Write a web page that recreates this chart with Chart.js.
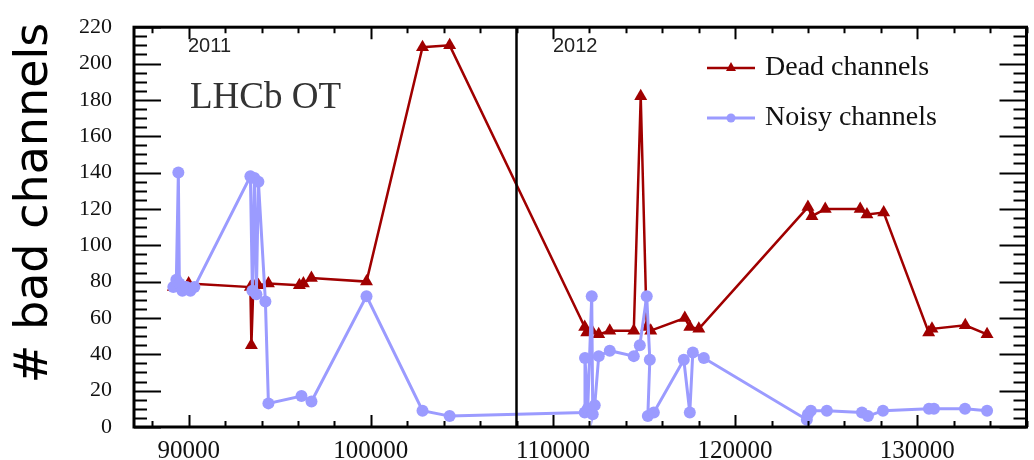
<!DOCTYPE html>
<html>
<head>
<meta charset="utf-8">
<script src="https://cdn.jsdelivr.net/npm/chart.js@4.4.1/dist/chart.umd.min.js"></script>
<style>
  html, body { margin: 0; padding: 0; background: #fff; }
  #wrap { width: 1034px; height: 460px; position: relative; }
</style>
</head>
<body>
<div id="wrap"><canvas id="otChart"></canvas></div>
<script>
// run numbers and bad channel counts, read per run
var deadRuns = [89160, 90000, 93390, 93445, 93555, 93830, 94380, 96080, 96300, 96740,
  99765, 102840, 104330,
  111745, 111855, 112130, 112515, 113120, 114440, 114820, 115150, 115370,
  117240, 117515, 118010,
  124000, 124220, 124950, 126870, 127240, 128160,
  130630, 130810, 132640, 133835];
var deadCounts = [77, 79, 77, 45, 78, 78, 79, 78, 79, 82,
  80, 209, 210,
  55, 52, 53, 51, 53, 53, 182, 55, 53,
  60, 55, 54,
  121, 116, 120, 120, 117, 118,
  52, 54, 56, 51];

var noisyRuns = [89160, 89325, 89435, 89490, 89655, 89875, 90095, 90315,
  93390, 93500, 93610, 93720, 93830, 94215, 94380,
  96195, 96745, 99765, 102840, 104330,
  111745, 111760, 111910, 112130, 112185, 112295, 112515, 113120, 114440, 114770,
  115150, 115320, 115210, 115540, 117185, 117515, 117680, 118285,
  123940, 124000, 124160, 125040, 126965, 127295, 128120,
  130645, 130920, 132625, 133835];
var noisyCounts = [77, 81, 140, 79, 75, 77, 75, 77,
  138, 75, 137, 73, 135, 69, 13,
  17, 14, 72, 9, 6,
  8, 38, 10, 72, 7, 12, 39, 42, 39, 45,
  72, 37, 6, 8, 37, 8, 41, 38,
  4, 7, 9, 9, 8, 6, 9,
  10, 10, 10, 9];

var xTickValues = [90000, 100000, 110000, 120000, 130000];
var yTickValues = [0, 20, 40, 60, 80, 100, 120, 140, 160, 180, 200, 220];
var yearBoundary = 108000;
var years = ['2011', '2012'];

function toPoints(xs, ys) {
  return xs.map(function (x, i) { return { x: x, y: ys[i] }; });
}

// frame, inward ticks, year separator and the text bits
var decorations = {
  id: 'decorations',
  afterDraw: function (chart) {
    var ctx = chart.ctx;
    var a = chart.chartArea;
    var x = chart.scales.x, y = chart.scales.y;
    ctx.save();
    ctx.strokeStyle = '#000';
    ctx.lineWidth = 2;
    ctx.beginPath();
    for (var v = 0; v <= 220; v += 5) {
      var py = Math.round(y.getPixelForValue(v)) + 0.5;
      var len = v % 20 === 0 ? 27 : 13;
      ctx.moveTo(a.left, py); ctx.lineTo(a.left + len, py);
      ctx.moveTo(a.right, py); ctx.lineTo(a.right - len, py);
    }
    for (var r = 88000; r <= 136000; r += 2000) {
      var px = Math.round(x.getPixelForValue(r)) + 0.5;
      var l2 = r % 10000 === 0 ? 12 : 6;
      ctx.moveTo(px, a.bottom); ctx.lineTo(px, a.bottom - l2);
      ctx.moveTo(px, a.top); ctx.lineTo(px, a.top + l2);
    }
    ctx.stroke();

    var bx = x.getPixelForValue(yearBoundary);
    ctx.lineWidth = 2.5;
    ctx.beginPath();
    ctx.moveTo(bx, a.top); ctx.lineTo(bx, a.bottom);
    ctx.stroke();

    ctx.lineWidth = 3;
    ctx.strokeRect(a.left, a.top, a.right - a.left, a.bottom - a.top);

    // year labels
    ctx.fillStyle = '#222';
    ctx.font = '20px "Liberation Sans"';
    ctx.textBaseline = 'middle';
    ctx.textAlign = 'left';
    ctx.fillText(years[0], 188, 46);
    ctx.fillText(years[1], 553, 46);

    ctx.fillStyle = '#333';
    ctx.font = '37px "Liberation Serif"';
    ctx.textBaseline = 'alphabetic';
    ctx.fillText('LHCb OT', 190, 108);

    // legend
    var rows = [68, 118];
    chart.data.datasets.forEach(function (ds, i) {
      var ly = rows[i];
      ctx.strokeStyle = ds.borderColor;
      ctx.fillStyle = ds.borderColor;
      ctx.lineWidth = ds.borderWidth;
      ctx.beginPath();
      ctx.moveTo(707, ly); ctx.lineTo(755, ly);
      ctx.stroke();
      ctx.beginPath();
      if (ds.pointStyle === 'triangle') {
        ctx.moveTo(731, ly - 6); ctx.lineTo(736, ly + 3); ctx.lineTo(726, ly + 3);
        ctx.closePath();
      } else {
        ctx.arc(731, ly, 4.5, 0, Math.PI * 2);
      }
      ctx.fill();
      ctx.fillStyle = '#111';
      ctx.font = '28px "Liberation Serif"';
      ctx.textBaseline = 'middle';
      ctx.fillText(ds.label, 765, ly);
    });

    // y axis title
    ctx.translate(35, 203);
    ctx.rotate(-Math.PI / 2);
    ctx.fillStyle = '#000';
    ctx.font = '46px "DejaVu Sans"';
    ctx.textAlign = 'center';
    ctx.textBaseline = 'middle';
    ctx.fillText('# bad channels', 0, 0);
    ctx.restore();
  }
};

var ctx = document.getElementById('otChart').getContext('2d');
var otChart = new Chart(ctx, {
  type: 'scatter',
  data: {
    datasets: [{
      label: 'Dead channels',
      data: toPoints(deadRuns, deadCounts),
      showLine: true,
      borderColor: '#a00000',
      backgroundColor: '#a00000',
      borderWidth: 2.5,
      pointStyle: 'triangle',
      pointRadius: 7.5,
      pointBorderWidth: 0,
      tension: 0,
      order: 1
    }, {
      label: 'Noisy channels',
      data: toPoints(noisyRuns, noisyCounts),
      showLine: true,
      borderColor: '#9b9bff',
      backgroundColor: '#9b9bff',
      borderWidth: 3,
      pointStyle: 'circle',
      pointRadius: 6,
      pointBorderWidth: 0,
      tension: 0,
      order: 0
    }]
  },
  options: {
    responsive: true,
    maintainAspectRatio: false,
    animation: false,
    layout: { padding: { top: 15, right: 7, left: 0, bottom: 0 } },
    plugins: { legend: { display: false }, tooltip: { enabled: false } },
    scales: {
      x: {
        type: 'linear',
        min: 87000,
        max: 136000,
        grid: { display: false },
        border: { display: false },
        afterBuildTicks: function (s) { s.ticks = xTickValues.map(function (v) { return { value: v }; }); },
        afterFit: function (s) { s.height = 33; },
        ticks: {
          padding: 1,
          color: '#111',
          maxRotation: 0,
          font: { family: '"Liberation Serif"', size: 25 },
          callback: function (v) { return String(v); }
        }
      },
      y: {
        min: 0,
        max: 220,
        grid: { display: false },
        border: { display: false },
        afterBuildTicks: function (s) { s.ticks = yTickValues.map(function (v) { return { value: v }; }); },
        afterFit: function (s) { s.width = 134; },
        ticks: {
          padding: 14,
          color: '#111',
          font: { family: '"Liberation Serif"', size: 22 },
          callback: function (v) { return String(v); }
        }
      }
    }
  },
  plugins: [decorations]
});
</script>
</body>
</html>
